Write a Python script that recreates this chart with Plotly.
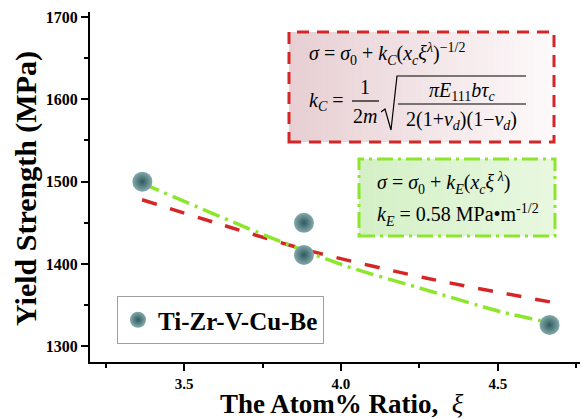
import plotly.graph_objects as go

# ---- data ----
x_pts = [3.367, 3.882, 3.882, 4.665]
y_pts = [1500, 1450, 1411, 1326]
series_name = "Ti-Zr-V-Cu-Be"

red_x = [3.366, 3.60, 3.91, 4.27, 4.68]
red_y = [1478, 1450, 1415, 1383, 1353]

green_x = [3.366, 3.77, 4.02, 4.25, 4.51, 4.675]
green_y = [1498, 1433, 1397, 1371, 1342, 1328]

x_ticks = [3.5, 4.0, 4.5]
x_ticktext = ["3.5", "4.0", "4.5"]
y_ticks = [1300, 1400, 1500, 1600, 1700]

x_title = "<b>The Atom% Ratio,</b>  <i>ξ</i>"
y_title = "<b>Yield Strength (MPa)</b>"

W, H = 581, 419
L, R, T, B = 90, 1, 12, 57
PW, PH = W - L - R, H - T - B

def px(x):
    return (x - L) / PW

def py(y):
    return (H - B - y) / PH

SERIF = "Liberation Serif, Times New Roman, serif"

fig = go.Figure()

fig.add_trace(go.Scatter(
    x=red_x, y=red_y, mode="lines", showlegend=False,
    line=dict(color="#d42626", width=3.5, dash="15px,14px", shape="spline", smoothing=0.8),
    hoverinfo="skip"))
fig.add_trace(go.Scatter(
    x=green_x, y=green_y, mode="lines", showlegend=False,
    line=dict(color="#8ce62a", width=3.5, dash="18px,6px,3px,6px", shape="spline", smoothing=0.8),
    hoverinfo="skip"))
fig.add_trace(go.Scatter(
    x=x_pts, y=y_pts, mode="markers", name=series_name,
    marker=dict(size=20, color="#86aaac",
                gradient=dict(type="radial", color="#2c5a5e"),
                line=dict(width=0))))

shapes = []
# red box gradient fill
n = 40
x0, x1, y0, y1 = 289, 554, 32, 142
c0 = (231, 207, 211)
c1 = (253, 249, 250)
for i in range(n):
    t = i / (n - 1)
    c = tuple(int(round(c0[k] + (c1[k] - c0[k]) * t)) for k in range(3))
    xa = x0 + (x1 - x0) * i / n
    xb = x0 + (x1 - x0) * (i + 1) / n + 0.6
    shapes.append(dict(type="rect", xref="paper", yref="paper",
                       x0=px(xa), x1=px(min(xb, x1)), y0=py(y1), y1=py(y0),
                       fillcolor="rgb(%d,%d,%d)" % c, line=dict(width=0), layer="below"))
shapes.append(dict(type="rect", xref="paper", yref="paper",
                   x0=px(x0), x1=px(x1), y0=py(y1), y1=py(y0),
                   line=dict(color="#d42626", width=3, dash="12px,8px")))
# green box gradient fill
gx0, gx1, gy0, gy1 = 359, 555, 159, 236
g0 = (212, 240, 198)
g1 = (232, 248, 224)
for i in range(n):
    t = i / (n - 1)
    c = tuple(int(round(g0[k] + (g1[k] - g0[k]) * t)) for k in range(3))
    xa = gx0 + (gx1 - gx0) * i / n
    xb = gx0 + (gx1 - gx0) * (i + 1) / n + 0.6
    shapes.append(dict(type="rect", xref="paper", yref="paper",
                       x0=px(xa), x1=px(min(xb, gx1)), y0=py(gy1), y1=py(gy0),
                       fillcolor="rgb(%d,%d,%d)" % c, line=dict(width=0), layer="below"))
shapes.append(dict(type="rect", xref="paper", yref="paper",
                   x0=px(gx0), x1=px(gx1), y0=py(gy1), y1=py(gy0),
                   line=dict(color="#8ce62a", width=3, dash="16px,5px,3px,5px")))

# fraction bars and radical
shapes.append(dict(type="line", xref="paper", yref="paper",
                   x0=px(352), x1=px(379), y0=py(101), y1=py(101),
                   line=dict(color="black", width=1.2)))
shapes.append(dict(type="line", xref="paper", yref="paper",
                   x0=px(398), x1=px(526), y0=py(104), y1=py(104),
                   line=dict(color="black", width=1.2)))
rad = [(381, 112), (385, 109), (391, 130), (397, 76), (526, 76)]
path = "M " + " L ".join("%.5f,%.5f" % (px(a), py(b)) for a, b in rad)
shapes.append(dict(type="path", xref="paper", yref="paper", path=path,
                   line=dict(color="black", width=1.2)))

EQ = 20
def ann(text, x, y, xanchor="left", size=EQ, angle=0):
    return dict(text=text, x=px(x), y=py(y), xref="paper", yref="paper",
                xanchor=xanchor, yanchor="middle", showarrow=False, textangle=angle,
                font=dict(family=SERIF, size=size, color="black"))

anns = [
    ann("<i>σ</i> = <i>σ</i><sub>0</sub> + <i>k</i><sub><i>C</i></sub>(<i>x</i><sub><i>c</i></sub><i>ξ</i><sup><i>λ</i></sup>)<sup>−1/2</sup>", 307, 54),
    ann("<i>k</i><sub><i>C</i></sub> =", 307, 101),
    ann("1", 365, 87, "center"),
    ann("2<i>m</i>", 365, 116, "center"),
    ann("<i>πE</i><sub>111</sub><i>bτ</i><sub><i>c</i></sub>", 462, 91, "center"),
    ann("2(1+<i>ν</i><sub><i>d</i></sub>)(1−<i>ν</i><sub><i>d</i></sub>)", 461, 120, "center"),
    ann("<i>σ</i> = <i>σ</i><sub>0</sub> + <i>k</i><sub><i>E</i></sub>(<i>x</i><sub><i>c</i></sub><i>ξ</i><sup> <i>λ</i></sup>)", 375, 183),
    ann("<i>k</i><sub><i>E</i></sub> = 0.58 MPa•m<sup>-1/2</sup>", 375, 215),
    ann(x_title, 342, 404, "center", size=27),
    ann(y_title, 26, 189, "center", size=30, angle=-90),
]

fig.update_layout(
    width=W, height=H,
    margin=dict(l=L, r=R, t=T, b=B),
    paper_bgcolor="white", plot_bgcolor="white",
    font=dict(family=SERIF, color="black"),
    shapes=shapes, annotations=anns,
    legend=dict(x=px(117), y=py(296), xanchor="left", yanchor="top",
                bordercolor="#a0a0a0", borderwidth=1, bgcolor="white",
                font=dict(family=SERIF, size=25, color="black", weight="bold"),
                itemsizing="trace"),
    xaxis=dict(range=[3.2, 4.762], showline=True, linecolor="black", linewidth=2,
               ticks="outside", ticklen=7, tickwidth=2, tickcolor="black",
               tickvals=x_ticks, ticktext=x_ticktext, showgrid=False, zeroline=False,
               minor=dict(ticks="outside", ticklen=4, tickwidth=1.5, tickcolor="black",
                          dtick=0.25, tick0=3.25, showgrid=False),
               tickfont=dict(family=SERIF, size=15, color="black", weight="bold")),
    yaxis=dict(range=[1281, 1706], showline=True, linecolor="black", linewidth=2,
               ticks="outside", ticklen=7, tickwidth=2, tickcolor="black",
               tickvals=y_ticks, showgrid=False, zeroline=False,
               minor=dict(ticks="outside", ticklen=4, tickwidth=1.5, tickcolor="black",
                          dtick=50, tick0=1250, showgrid=False),
               tickfont=dict(family=SERIF, size=16, color="black", weight="bold")),
)

fig.write_html("out.html")
